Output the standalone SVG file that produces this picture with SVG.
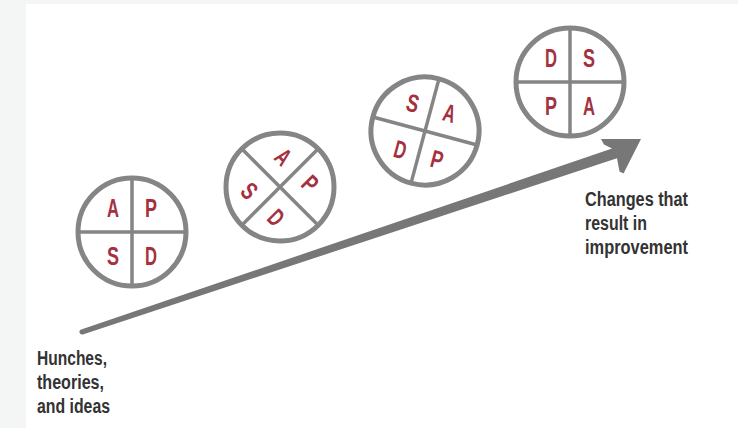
<svg xmlns="http://www.w3.org/2000/svg" width="738" height="428" viewBox="0 0 738 428">
<style>
.ring{fill:none;stroke:#858585;stroke-width:5}
.div{stroke:#858585;stroke-width:3.5}
.ltr{font-family:"Liberation Sans Narrow","Liberation Sans",Arial,sans-serif;font-weight:bold;font-size:25px;fill:#a3313f;text-anchor:middle}
.lbl{font-family:"Liberation Sans Narrow","Liberation Sans",Arial,sans-serif;font-weight:bold;font-size:20px;fill:#333333}
</style>
<defs>
<g id="wheel">
<circle class="ring" cx="0" cy="0" r="54"/>
<line class="div" x1="-54" y1="0" x2="54" y2="0"/>
<line class="div" x1="0" y1="-54" x2="0" y2="54"/>
</g>
</defs>
<rect x="0" y="0" width="738" height="428" fill="#f4f6f6"/>
<rect x="26" y="4" width="712" height="424" fill="#ffffff"/>
<g id="connectors">
<path d="M641,139 L601,139 L604,144.5 L612,148.6 L81.2,329.6 A2.5,2.5 0 0 0 82.8,334.4 L617,158.3 L619.5,171.5 L623.5,173.5 Z" fill="#777777"/>
</g>
<g id="pdsa1" transform="translate(132,232)">
<use href="#wheel"/>
<text class="ltr" x="-19" y="-15" textLength="12" lengthAdjust="spacingAndGlyphs">A</text>
<text class="ltr" x="19" y="-15" textLength="12" lengthAdjust="spacingAndGlyphs">P</text>
<text class="ltr" x="-19" y="33" textLength="12" lengthAdjust="spacingAndGlyphs">S</text>
<text class="ltr" x="19" y="33" textLength="12" lengthAdjust="spacingAndGlyphs">D</text>
</g>
<g id="pdsa2" transform="translate(280,187) rotate(45)">
<use href="#wheel"/>
<text class="ltr" x="-19" y="-15" textLength="12" lengthAdjust="spacingAndGlyphs">A</text>
<text class="ltr" x="19" y="-15" textLength="12" lengthAdjust="spacingAndGlyphs">P</text>
<text class="ltr" x="-19" y="33" textLength="12" lengthAdjust="spacingAndGlyphs">S</text>
<text class="ltr" x="19" y="33" textLength="12" lengthAdjust="spacingAndGlyphs">D</text>
</g>
<g id="pdsa3" transform="translate(425,131) rotate(15)">
<use href="#wheel"/>
<text class="ltr" x="-19" y="-15" textLength="12" lengthAdjust="spacingAndGlyphs">S</text>
<text class="ltr" x="19" y="-15" textLength="12" lengthAdjust="spacingAndGlyphs">A</text>
<text class="ltr" x="-19" y="33" textLength="12" lengthAdjust="spacingAndGlyphs">D</text>
<text class="ltr" x="19" y="33" textLength="12" lengthAdjust="spacingAndGlyphs">P</text>
</g>
<g id="pdsa4" transform="translate(570,82)">
<use href="#wheel"/>
<text class="ltr" x="-19" y="-15" textLength="12" lengthAdjust="spacingAndGlyphs">D</text>
<text class="ltr" x="19" y="-15" textLength="12" lengthAdjust="spacingAndGlyphs">S</text>
<text class="ltr" x="-19" y="33" textLength="12" lengthAdjust="spacingAndGlyphs">P</text>
<text class="ltr" x="19" y="33" textLength="12" lengthAdjust="spacingAndGlyphs">A</text>
</g>
<g id="start-label">
<text class="lbl" x="37" y="365" textLength="70" lengthAdjust="spacingAndGlyphs">Hunches,</text>
<text class="lbl" x="37" y="389" textLength="67" lengthAdjust="spacingAndGlyphs">theories,</text>
<text class="lbl" x="37" y="413" textLength="73" lengthAdjust="spacingAndGlyphs">and ideas</text>
</g>
<g id="end-label">
<text class="lbl" x="585" y="206" textLength="103" lengthAdjust="spacingAndGlyphs">Changes that</text>
<text class="lbl" x="585" y="230" textLength="62" lengthAdjust="spacingAndGlyphs">result in</text>
<text class="lbl" x="585" y="254" textLength="103" lengthAdjust="spacingAndGlyphs">improvement</text>
</g>
</svg>
